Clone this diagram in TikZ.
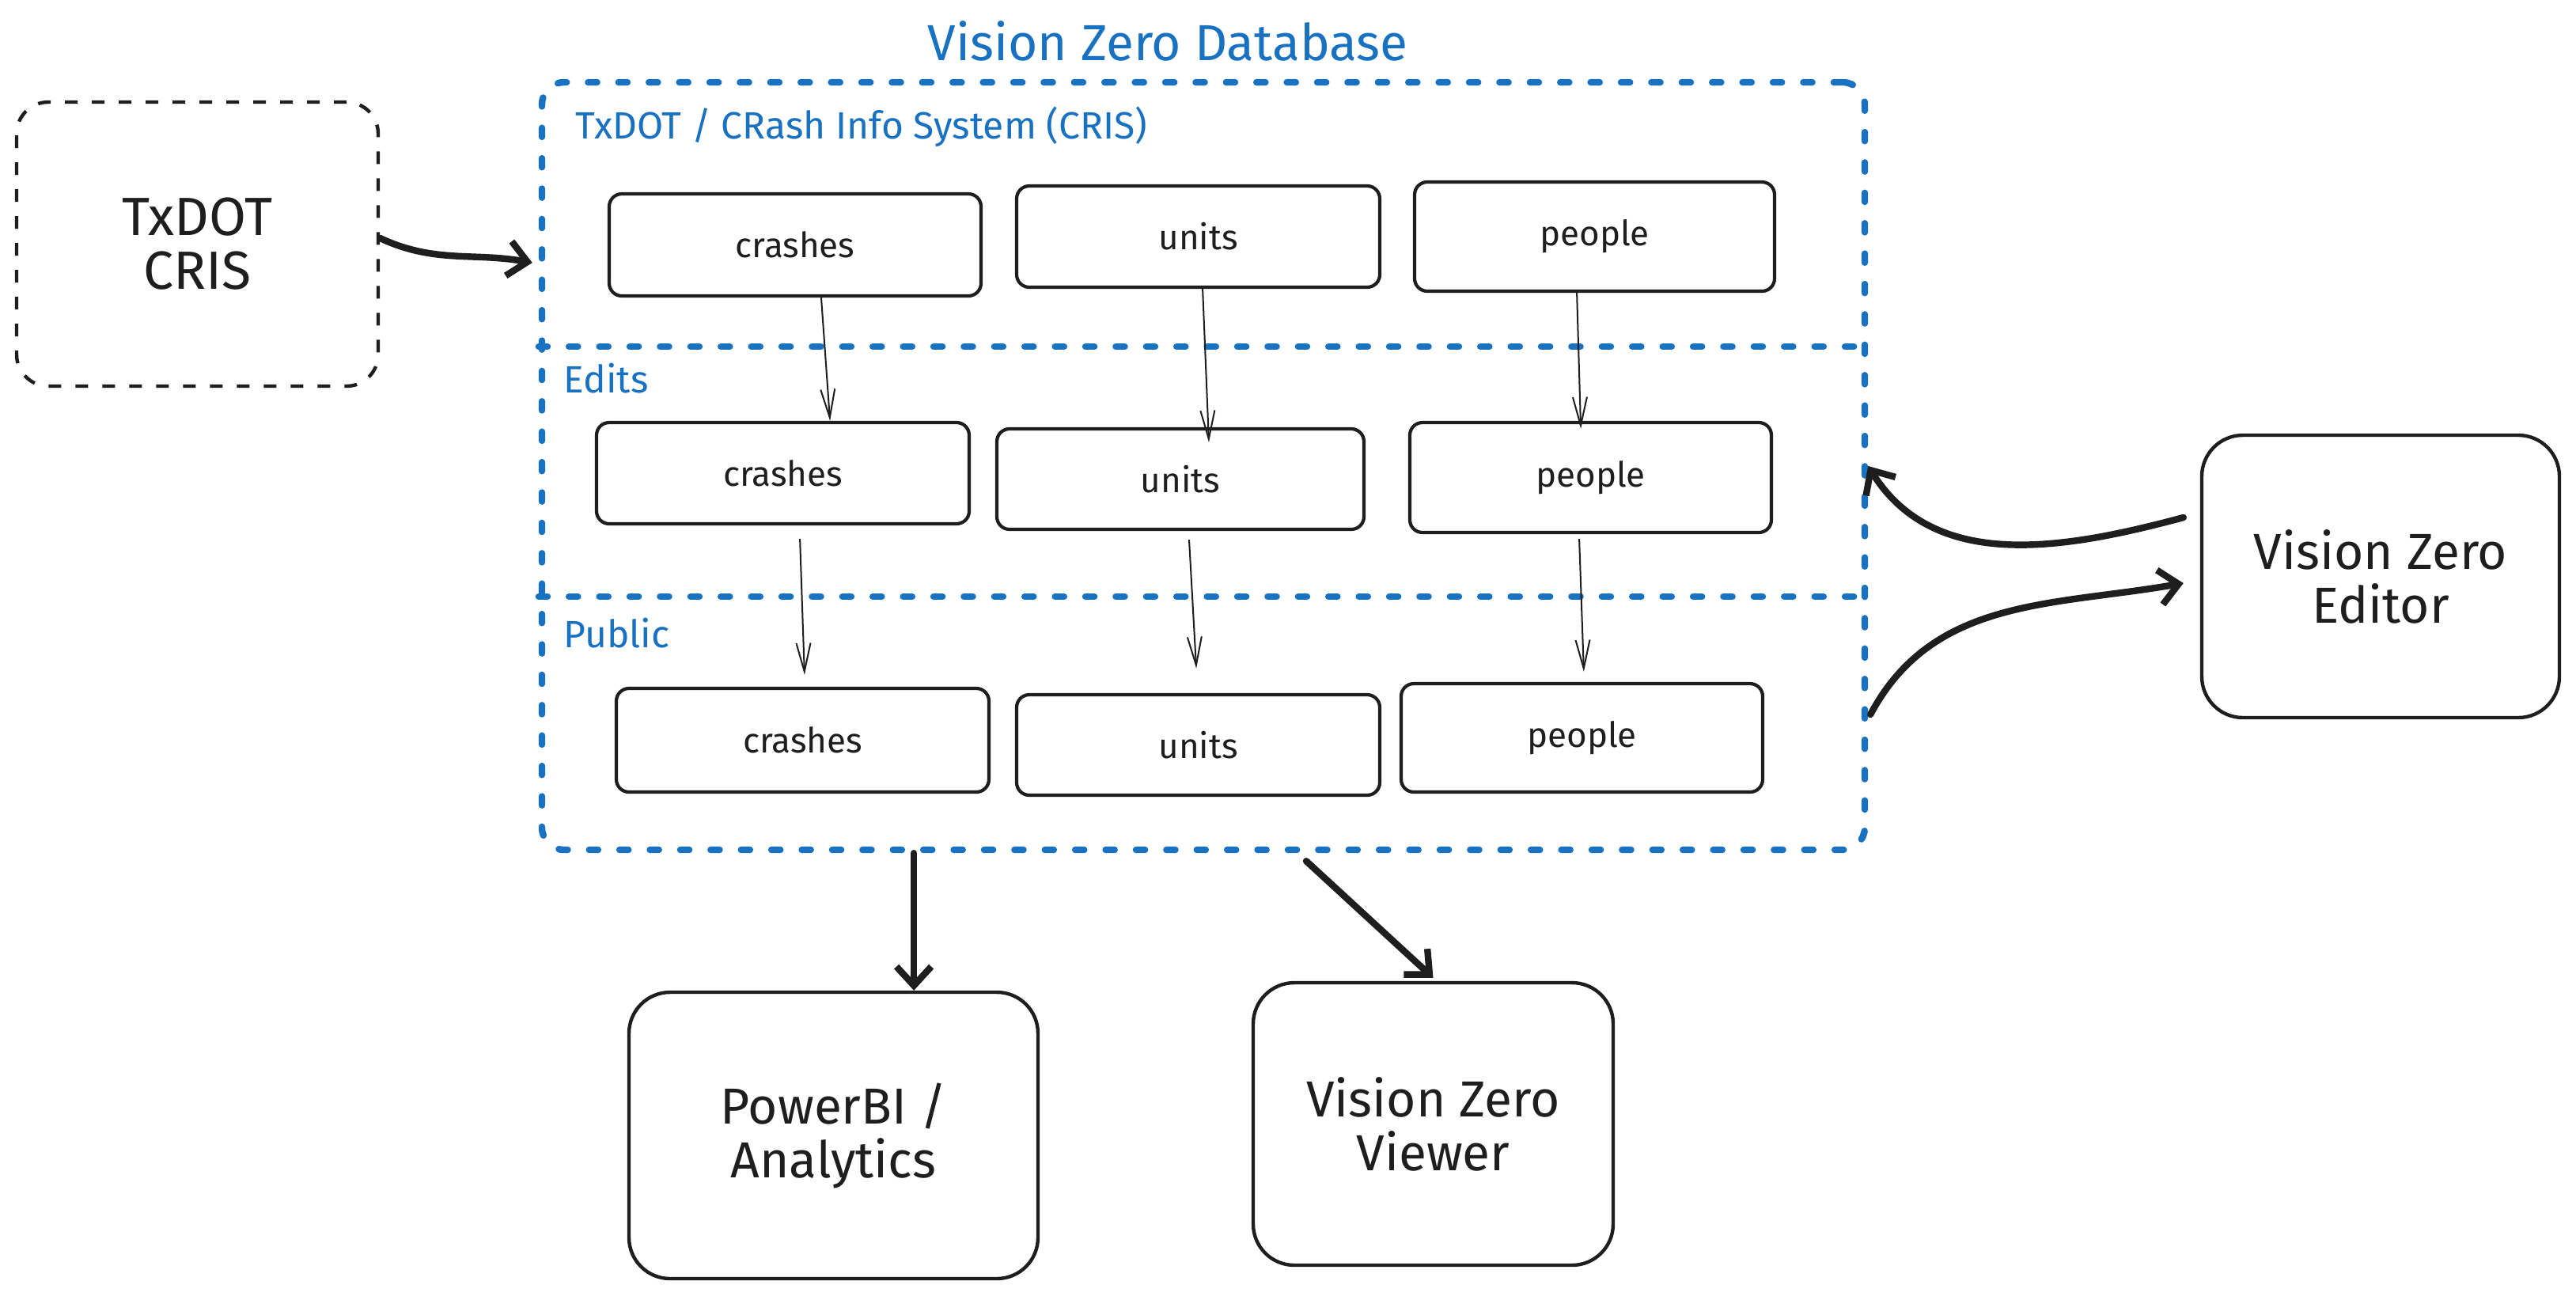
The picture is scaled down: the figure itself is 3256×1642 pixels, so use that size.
\documentclass[tikz,border=0pt]{standalone}
\usepackage{fontspec}
\setmainfont{Fira Sans}
\usetikzlibrary{arrows.meta,calc}
\definecolor{vzblue}{HTML}{1971C2}
\definecolor{ink}{HTML}{1E1E1E}
\begin{document}
\begin{tikzpicture}[x=0.25pt,y=-0.25pt,
  sz/.style 2 args={minimum width={#1*0.25pt}, minimum height={#2*0.25pt}},
  tbl/.style={draw=ink, line width=1.05pt, rounded corners=4pt, text=ink, inner sep=0pt,
    font=\fontsize{11}{13}\selectfont},
  sys/.style={draw=ink, line width=1.1pt, rounded corners=13pt, text=ink, inner sep=0pt,
    align=center, font=\fontsize{16}{17}\selectfont},
  srcbox/.style={draw=ink, line width=1.1pt, rounded corners=10pt, text=ink, inner sep=0pt,
    align=center, font=\fontsize{17}{17}\selectfont, dash pattern=on 4pt off 4.5pt},
  dbbox/.style={draw=vzblue, line width=2.1pt, rounded corners=7pt, inner sep=0pt,
    line cap=round, dash pattern=on 2.8pt off 6.8pt},
  divider/.style={draw=vzblue, line width=2.1pt, line cap=round, dash pattern=on 2.8pt off 6.8pt},
  seclabel/.style={text=vzblue, anchor=west, inner sep=0pt, font=\fontsize{12}{14}\selectfont},
  thickarrow/.style={draw=ink, line width=2.1pt, line cap=round, line join=round,
    -{Straight Barb[length=6pt,width=11pt]}},
  thinarrow/.style={draw=ink, line width=0.5pt, -{Straight Barb[length=9pt,width=4.5pt]}}
]
\fill[white] (0,0) rectangle (3256,1642);
\useasboundingbox (0,0) rectangle (3256,1642);

% title
\node[text=vzblue, font=\fontsize{16}{18}\selectfont, inner sep=0pt] (title) at (1476,52) {Vision Zero Database};

% database container
\node[dbbox, sz={1672}{970}] (db) at (1521,589) {};
\draw[divider] (db.west |- {(0,438)}) -- (db.east |- {(0,438)});
\draw[divider] (db.west |- {(0,754)}) -- (db.east |- {(0,754)});

\node[seclabel] (lcris) at (727,160) {TxDOT / CRash Info System (CRIS)};
\node[seclabel] (ledits) at (712,478) {Edits};
\node[seclabel] (lpublic) at (712,800) {Public};

% tables
\node[tbl, sz={470}{129}] (c1) at (1005,309.5) {crashes};
\node[tbl, sz={459}{128}] (u1) at (1514.5,299) {units};
\node[tbl, sz={455}{138}] (p1) at (2015.5,299) {people};

\node[tbl, sz={471}{128}] (c2) at (989.5,598) {crashes};
\node[tbl, sz={464}{127}] (u2) at (1492,605.5) {units};
\node[tbl, sz={457}{139}] (p2) at (2010.5,603.5) {people};

\node[tbl, sz={471}{131}] (c3) at (1014.5,935.5) {crashes};
\node[tbl, sz={459}{127}] (u3) at (1514.5,941.5) {units};
\node[tbl, sz={457}{137}] (p3) at (1999.5,932.5) {people};

% systems
\node[srcbox, sz={457}{359}] (txdot) at (249.5,308.5) {TxDOT\\CRIS};
\node[sys, sz={452}{357}] (editor) at (3009,728.5) {Vision Zero\\Editor};
\node[sys, sz={517}{362}] (pbi) at (1053.5,1435) {PowerBI /\\Analytics};
\node[sys, sz={455}{357}] (viewer) at (1811.5,1420.5) {Vision Zero\\Viewer};

% thin arrows between layers
\draw[thinarrow] ([xshift=8.25pt]c1.south) -- ([xshift=14.9pt]c2.north);
\draw[thinarrow] ([xshift=1.4pt]u1.south) -- ([xshift=9pt,yshift=-4.75pt]u2.north);
\draw[thinarrow] ([xshift=-5.6pt]p1.south) -- ([xshift=-3.1pt,yshift=-2.5pt]p2.north);
\draw[thinarrow] ([xshift=5.4pt,yshift=-4.25pt]c2.south) -- ([xshift=0.6pt,yshift=3.75pt]c3.north);
\draw[thinarrow] ([xshift=2.75pt,yshift=-2.75pt]u2.south) -- ([xshift=-0.6pt,yshift=7.75pt]u3.north);
\draw[thinarrow] ([xshift=-3.6pt,yshift=-1.5pt]p2.south) -- ([xshift=0.6pt,yshift=3.25pt]p3.north);

% thick arrows
\draw[thickarrow] ([yshift=1.9pt]txdot.east) to[out=-25,in=170] ($(db.west |- txdot.east)+(-8,23.5)$);
\draw[thickarrow] ($(editor.west)+(-21,-74.5)$) to[out=195,in=-58] (db.east);
\draw[thickarrow] ($(db.east)+(3,314)$) to[out=62,in=190] ($(editor.west)+(-21,8.5)$);
\coordinate (pbiin) at ([xshift=25.4pt]pbi.north);
\draw[thickarrow] (db.south -| pbiin) -- (pbiin);
\draw[thickarrow] ($(db.south)+(130,10)$) -- ([yshift=1pt]viewer.north);
\end{tikzpicture}
\end{document}
